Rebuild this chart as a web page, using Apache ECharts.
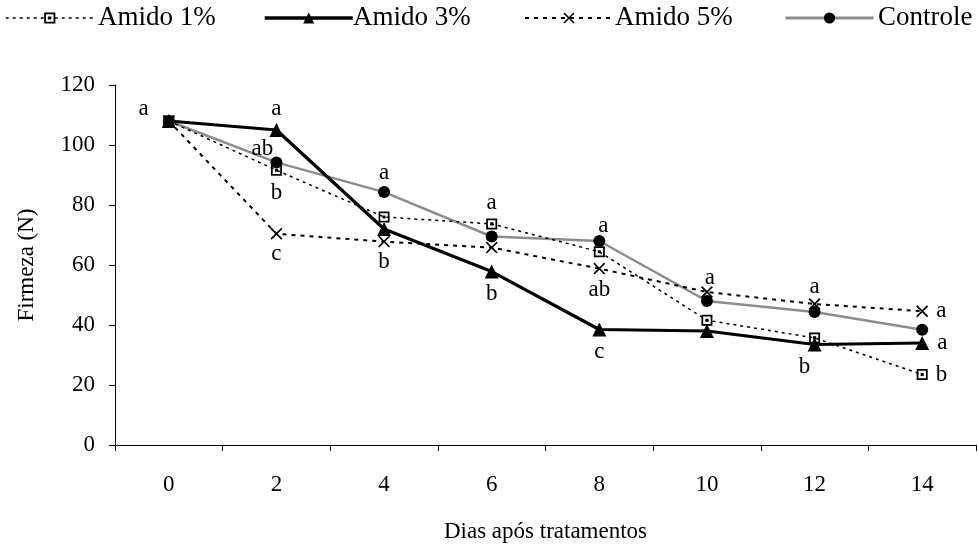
<!DOCTYPE html>
<html><head><meta charset="utf-8">
<script src="https://cdn.jsdelivr.net/npm/echarts@6/dist/echarts.min.js"></script>
<style>html,body{margin:0;padding:0;background:#fff;}#c{width:978px;height:548px;}</style>
</head><body><div id="c"></div>
<script>
var days = ['0', '2', '4', '6', '8', '10', '12', '14'];
var yTicks = [0, 20, 40, 60, 80, 100, 120];
var amido1 = [108, 91.6, 76, 73.7, 64.4, 41.6, 35.7, 23.5];
var amido3 = [108, 105, 72, 57.8, 38.5, 38, 33.5, 34];
var amido5 = [108, 70.4, 67.8, 65.8, 58.8, 51, 47, 44.6];
var controle = [108, 94.2, 84.3, 69.5, 68, 48, 44.3, 38.4];
var amido1Letters = ['', 'b', '', 'a', '', '', '', 'b'];
var amido3Letters = ['', 'a', '', 'b', 'c', '', 'b', 'a'];
var amido5Letters = ['', 'c', 'b', '', 'ab', 'a', 'a', 'a'];
var controleLetters = ['a', 'ab', 'a', '', 'a', '', '', ''];
var seriesNames = ['Amido 1%', 'Amido 3%', 'Amido 5%', 'Controle'];

var FONT = '"Liberation Serif", "Times New Roman", serif';
var FS = 23;

// label placement (style)
var place = {
  amido1: {1: ['bottom', 6, [0, 0]], 3: ['top', 4, [0, 0]], 7: ['right', 8, [0, 0]]},
  amido3: {1: ['top', 3, [0, 0]], 3: ['bottom', 4, [0, 0]], 4: ['bottom', 4, [0, 0]], 6: ['bottom', 4, [-10, 0]], 7: ['right', 8, [0, 0]]},
  amido5: {1: ['bottom', 3, [0, 0]], 2: ['bottom', 3, [0, 0]], 4: ['bottom', 4, [0, 0]], 5: ['top', -3, [3, 0]], 6: ['top', 0, [0, 0]], 7: ['right', 8, [0, 0]]},
  controle: {0: ['left', 14, [0, -12]], 1: ['top', 0, [-14, 4]], 2: ['top', 2, [0, 0]], 4: ['top', -2, [4, 0]]}
};

function buildData(vals, letters, key) {
  return vals.map(function (v, i) {
    var d = {value: v};
    if (letters[i]) {
      var p = place[key][i] || ['top', 4, [0, 0]];
      d.label = {show: true, formatter: letters[i], position: p[0], distance: p[1], offset: p[2],
        color: '#000', fontFamily: FONT, fontSize: FS};
    }
    return d;
  });
}

var squareDot = 'path://M0,0H10V10H0Z M1.6,1.6V8.4H8.4V1.6Z M3.6,3.6H6.4V6.4H3.6Z';
var crossSym = 'path://M0,1L1,0L5,4L9,0L10,1L6,5L10,9L9,10L5,6L1,10L0,9L4,5Z';
// legend layout (style)
var legendIconX = [5, 263, 524, 784];
var legendTextX = [98, 353, 615, 878];
var legendWidths = [1.5, 3.5, 2, 3];
var LEG_Y = 18;

var legends = seriesNames.map(function (n, i) {
  return {
    left: legendIconX[i], top: LEG_Y - 7, itemWidth: 88, itemHeight: 14, padding: 0,
    formatter: function () { return ''; },
    data: [{name: n, lineStyle: {width: legendWidths[i]}}]
  };
});
var legendLabels = seriesNames.map(function (n, i) {
  return {
    type: 'text', left: legendTextX[i], top: LEG_Y - 14,
    style: {text: n, fontFamily: FONT, fontSize: 27, fill: '#000'}
  };
});

var chart = echarts.init(document.getElementById('c'), null, {renderer: 'canvas'});
chart.setOption({
  backgroundColor: '#fff',
  animation: false,
  textStyle: {fontFamily: FONT, color: '#000'},
  legend: legends,
  graphic: legendLabels,
  grid: {left: 115, right: 2, top: 85, bottom: 100},
  xAxis: {
    type: 'category', data: days, boundaryGap: true,
    name: 'Dias após tratamentos', nameLocation: 'middle', nameGap: 75,
    nameTextStyle: {fontFamily: FONT, fontSize: FS, color: '#000'},
    axisLine: {lineStyle: {color: '#000', width: 1}},
    axisTick: {show: true, length: 6, inside: false, lineStyle: {color: '#000'}},
    axisLabel: {margin: 28, fontFamily: FONT, fontSize: FS, color: '#000'},
    splitLine: {show: false}
  },
  yAxis: {
    type: 'value', min: yTicks[0], max: yTicks[yTicks.length - 1], interval: yTicks[1] - yTicks[0],
    name: 'Firmeza (N)', nameLocation: 'middle', nameGap: 77,
    nameTextStyle: {fontFamily: FONT, fontSize: FS, color: '#000'},
    axisLine: {show: true, lineStyle: {color: '#000', width: 1}},
    axisTick: {show: true, length: 6, lineStyle: {color: '#000'}},
    axisLabel: {margin: 20, fontFamily: FONT, fontSize: FS, color: '#000'},
    splitLine: {show: false}
  },
  series: [
    {
      name: seriesNames[3], type: 'line', data: buildData(controle, controleLetters, 'controle'),
      symbol: 'circle', symbolSize: 12, z: 2,
      color: '#000',
      lineStyle: {color: '#8c8c8c', width: 2.5, type: 'solid'},
      itemStyle: {color: '#000'}
    },
    {
      name: seriesNames[0], type: 'line', data: buildData(amido1, amido1Letters, 'amido1'),
      symbol: squareDot, symbolSize: 11, z: 3,
      color: '#000',
      lineStyle: {color: '#000', width: 1.5, type: [3, 4]},
      itemStyle: {color: '#000'}
    },
    {
      name: seriesNames[1], type: 'line', data: buildData(amido3, amido3Letters, 'amido3'),
      symbol: 'triangle', symbolSize: 14, z: 4,
      color: '#000',
      lineStyle: {color: '#000', width: 3.2, type: 'solid'},
      itemStyle: {color: '#000'}
    },
    {
      name: seriesNames[2], type: 'line', data: buildData(amido5, amido5Letters, 'amido5'),
      symbol: crossSym, symbolSize: 12, z: 3,
      color: '#000',
      lineStyle: {color: '#000', width: 2, type: [4, 5]},
      itemStyle: {color: '#000'}
    }
  ]
});
</script></body></html>
